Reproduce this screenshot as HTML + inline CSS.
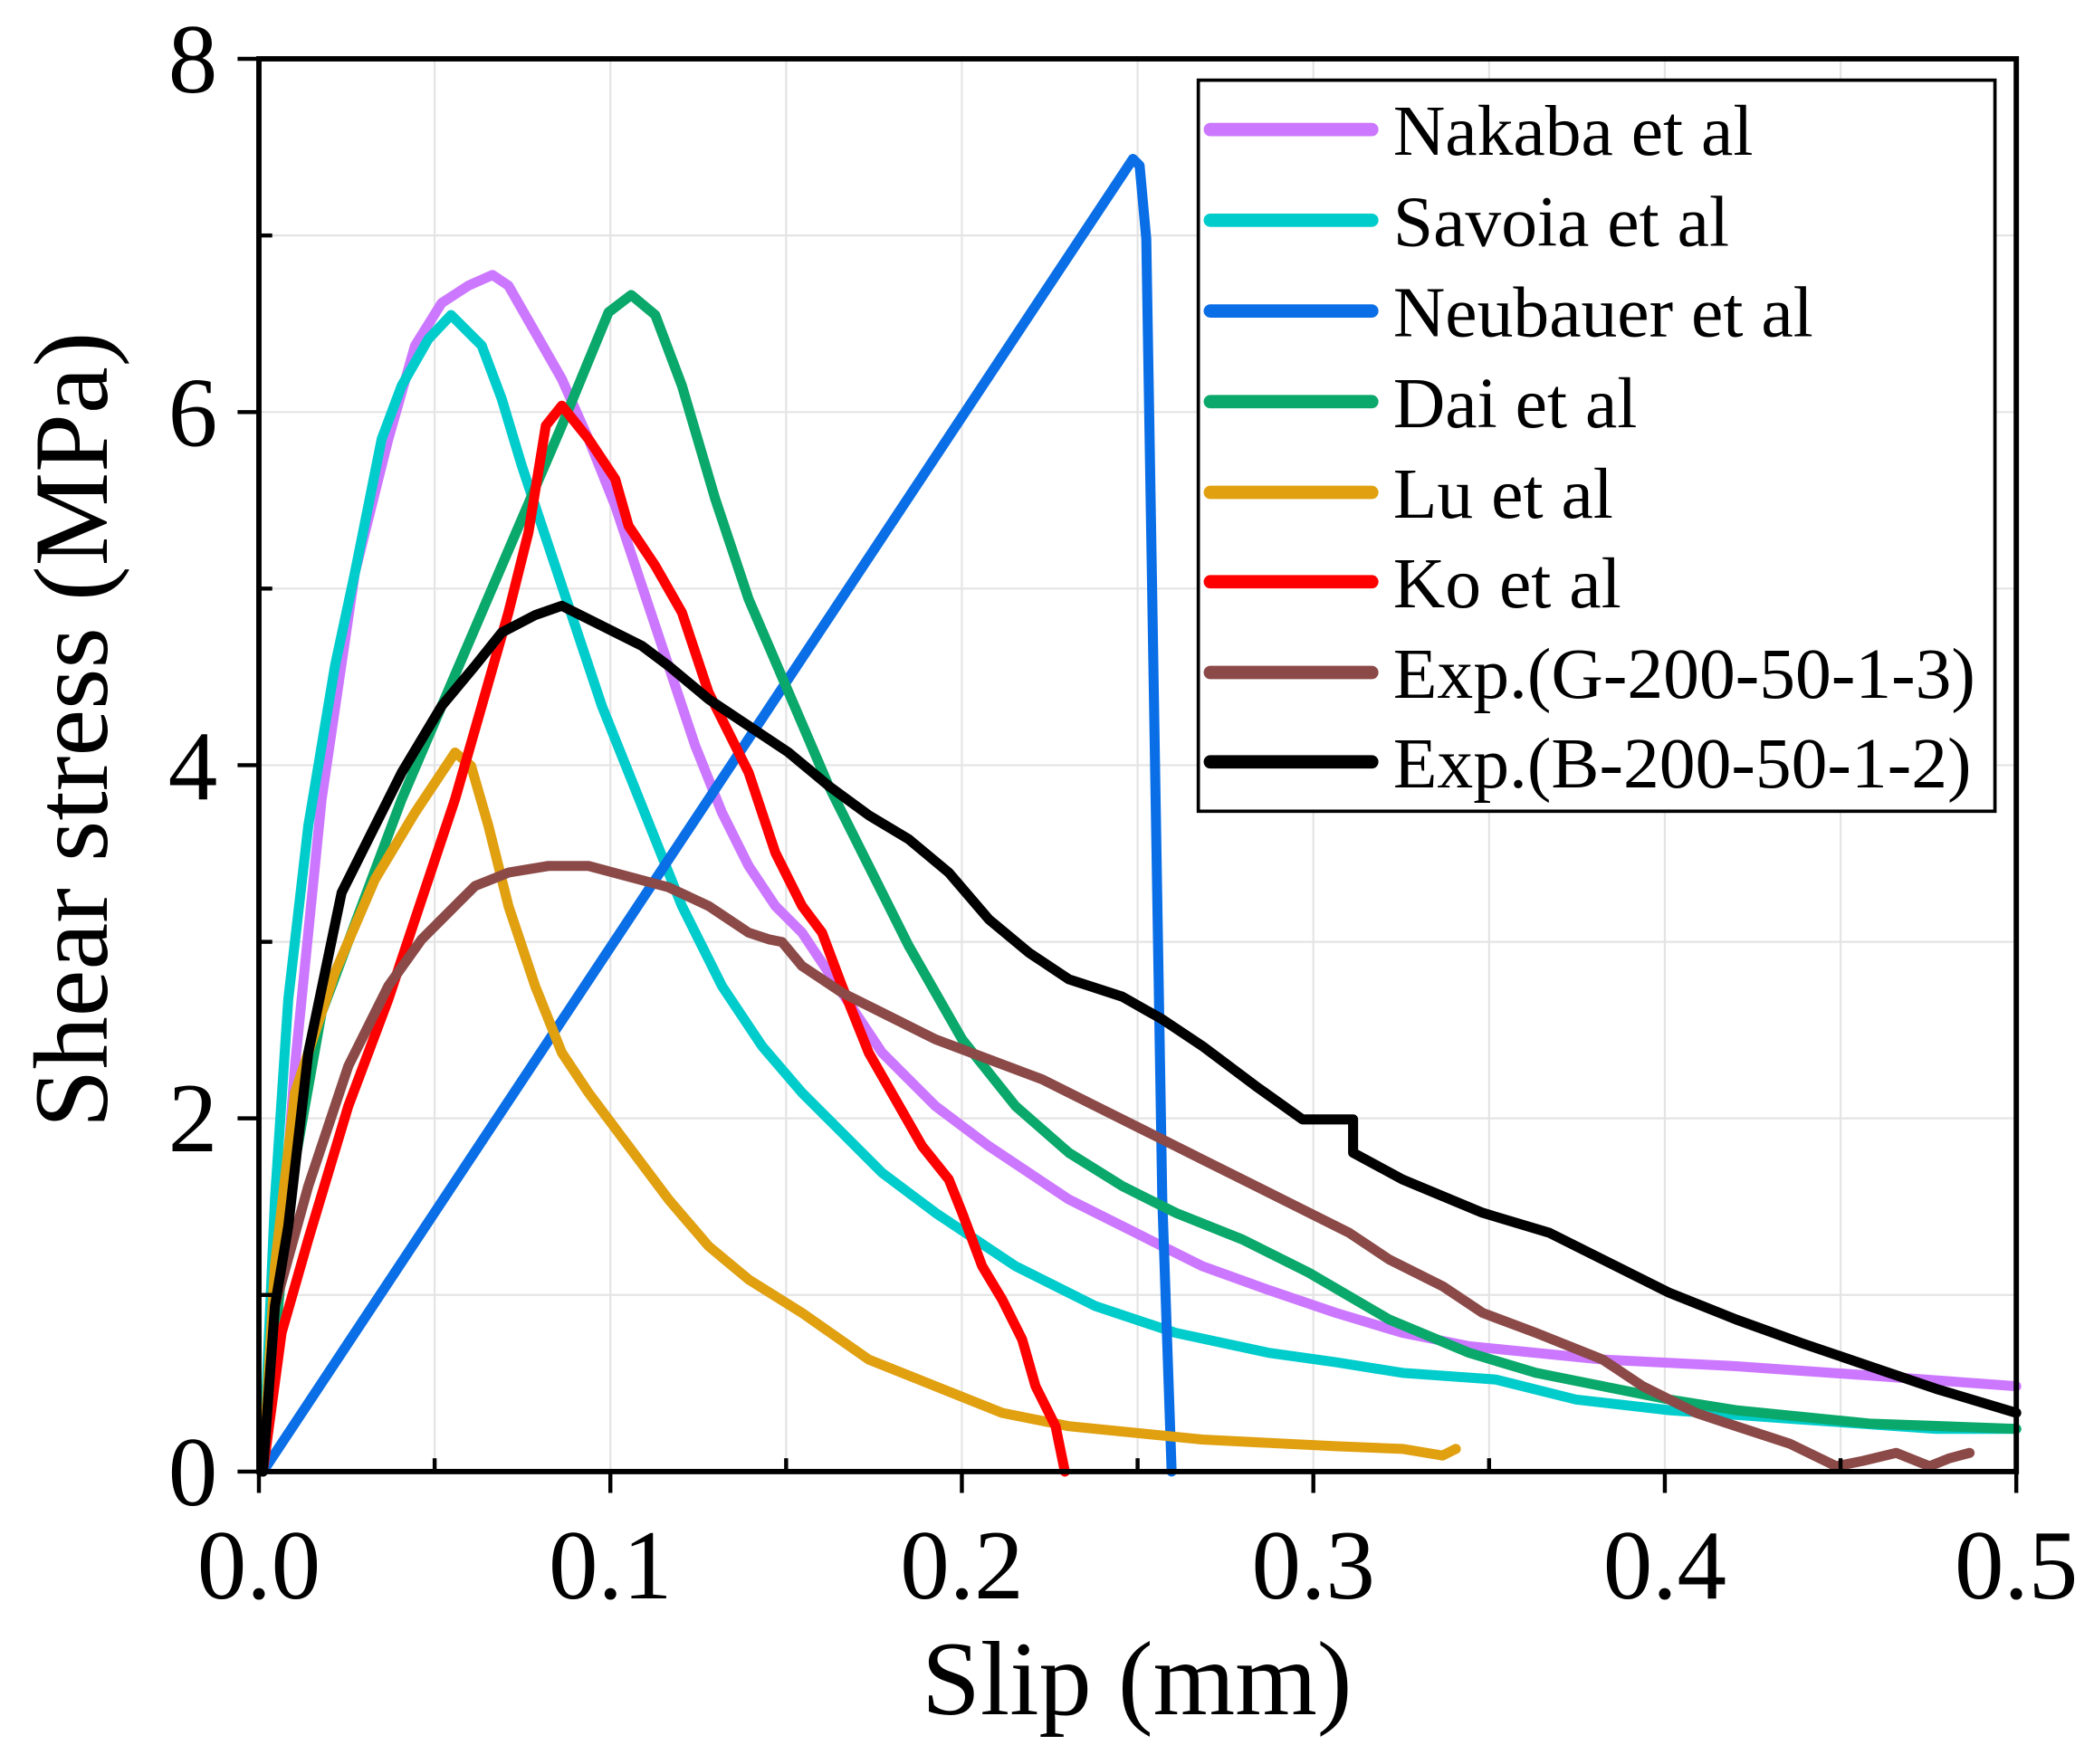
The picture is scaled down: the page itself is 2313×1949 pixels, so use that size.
<!DOCTYPE html>
<html><head><meta charset="utf-8"><style>html,body{margin:0;padding:0;background:#fff}svg{display:block}</style></head>
<body>
<svg width="2313" height="1949" viewBox="-1 0.9 1569.2 1322.3" xmlns="http://www.w3.org/2000/svg" font-family="Liberation Serif, serif">
<rect x="-1" y="0" width="1570" height="1324" fill="#fff"/>
<g stroke="#e4e4e4" stroke-width="1.5">
<line x1="324.7" y1="45" x2="324.7" y2="1104"/><line x1="456.4" y1="45" x2="456.4" y2="1104"/><line x1="588.1" y1="45" x2="588.1" y2="1104"/><line x1="719.8" y1="45" x2="719.8" y2="1104"/><line x1="851.5" y1="45" x2="851.5" y2="1104"/><line x1="983.2" y1="45" x2="983.2" y2="1104"/><line x1="1114.9" y1="45" x2="1114.9" y2="1104"/><line x1="1246.6" y1="45" x2="1246.6" y2="1104"/><line x1="1378.3" y1="45" x2="1378.3" y2="1104"/>
<line x1="193" y1="971.6" x2="1510" y2="971.6"/><line x1="193" y1="839.2" x2="1510" y2="839.2"/><line x1="193" y1="706.9" x2="1510" y2="706.9"/><line x1="193" y1="574.5" x2="1510" y2="574.5"/><line x1="193" y1="442.1" x2="1510" y2="442.1"/><line x1="193" y1="309.8" x2="1510" y2="309.8"/><line x1="193" y1="177.4" x2="1510" y2="177.4"/>
</g>
<g fill="none" stroke-width="7.5" stroke-linejoin="round" stroke-linecap="round">
<polyline stroke="#cc77ff" points="196,1104 205,1000 220,800 240,600 265,430 290,330 310,260 330,228 350,215 368,207 380,215 400,250 420,285 440,330 460,380 480,440 500,500 520,560 540,610 560,650 580,680 600,700 620,730 640,760 660,790 700,830 740,860 800,900 850,925 900,950 950,968 1000,985 1050,1000 1100,1010 1200,1020 1300,1025 1400,1032 1510,1040"/>
<polyline stroke="#00cccc" points="196,1104 205,900 215,750 230,620 250,500 265,430 285,330 300,290 320,255 337,237 360,260 375,300 390,350 410,410 430,470 450,530 470,580 490,630 510,680 540,740 570,785 600,820 630,850 660,880 700,910 760,950 820,980 880,1000 950,1015 1000,1022 1050,1030 1120,1035 1180,1050 1250,1058 1350,1065 1450,1072 1510,1072"/>
<polyline stroke="#0a6ee6" points="196,1104 848,120 853,125 858,180 865,600 870,900 877,1104"/>
<polyline stroke="#0aa86a" points="196,1104 215,900 240,760 270,680 300,600 330,530 360,460 390,390 420,320 455,235 472,222 490,237 510,290 535,375 560,450 590,520 620,590 650,650 680,710 720,780 760,830 800,865 840,890 880,910 930,930 980,955 1040,990 1100,1015 1150,1030 1200,1040 1250,1050 1300,1058 1400,1068 1510,1072"/>
<polyline stroke="#e0a010" points="196,1104 205,950 220,820 250,730 280,660 310,610 330,580 340,565 352,575 365,620 380,680 400,740 420,790 440,820 470,860 500,900 530,935 560,960 600,985 650,1020 700,1040 750,1060 800,1070 900,1080 1000,1085 1050,1087 1080,1092 1090,1087"/>
<polyline stroke="#ff0000" points="196,1104 210,1000 230,930 260,830 290,750 320,660 340,600 360,530 380,460 395,400 408,320 420,305 440,330 460,360 470,395 490,425 510,460 530,520 560,580 580,640 600,680 615,700 630,740 650,790 670,825 690,860 710,885 720,910 735,950 750,975 765,1005 775,1040 790,1070 797,1104"/>
<polyline stroke="#8b4a48" points="196,1104 205,980 230,890 260,800 290,740 315,705 335,685 355,665 380,655 410,650 440,650 470,658 500,666 530,680 560,700 575,705 585,707 600,725 630,745 660,760 700,780 740,795 780,810 820,830 860,850 900,870 940,890 980,910 1010,925 1040,945 1080,965 1110,985 1150,1000 1200,1020 1230,1040 1270,1060 1300,1070 1340,1083 1375,1100 1395,1096 1420,1090 1445,1100 1460,1094 1475,1090"/>
<polyline stroke="#000" points="196,1104 205,980 215,920 230,790 255,670 275,630 300,580 330,530 355,500 375,475 400,462 420,455 440,465 460,475 480,485 500,500 530,525 560,545 590,565 620,590 650,612 680,630 710,655 740,690 770,715 800,735 840,748 870,765 900,785 940,815 975,840 1013,840 1013,865 1050,885 1110,910 1160,925 1200,945 1250,970 1300,990 1350,1008 1400,1025 1450,1042 1510,1060"/>
</g>
<rect x="193" y="45" width="1317" height="1059" fill="none" stroke="#000" stroke-width="4"/>
<g stroke="#000" stroke-width="3">
<line x1="193" y1="1104" x2="193" y2="1120"/><line x1="456.4" y1="1104" x2="456.4" y2="1120"/><line x1="719.8" y1="1104" x2="719.8" y2="1120"/><line x1="983.2" y1="1104" x2="983.2" y2="1120"/><line x1="1246.6" y1="1104" x2="1246.6" y2="1120"/><line x1="1510" y1="1104" x2="1510" y2="1120"/>
<line x1="324.7" y1="1104" x2="324.7" y2="1094"/><line x1="588.1" y1="1104" x2="588.1" y2="1094"/><line x1="851.5" y1="1104" x2="851.5" y2="1094"/><line x1="1114.9" y1="1104" x2="1114.9" y2="1094"/><line x1="1378.3" y1="1104" x2="1378.3" y2="1094"/>
<line x1="177" y1="1104" x2="193" y2="1104"/><line x1="177" y1="839.2" x2="193" y2="839.2"/><line x1="177" y1="574.5" x2="193" y2="574.5"/><line x1="177" y1="309.8" x2="193" y2="309.8"/><line x1="177" y1="45" x2="193" y2="45"/>
<line x1="193" y1="971.6" x2="203" y2="971.6"/><line x1="193" y1="706.9" x2="203" y2="706.9"/><line x1="193" y1="442.1" x2="203" y2="442.1"/><line x1="193" y1="177.4" x2="203" y2="177.4"/>
</g>
<g font-size="74" text-anchor="middle" fill="#000">
<text x="193" y="1199">0.0</text><text x="456.4" y="1199">0.1</text><text x="719.8" y="1199">0.2</text><text x="983.2" y="1199">0.3</text><text x="1246.6" y="1199">0.4</text><text x="1510" y="1199">0.5</text>
</g>
<g font-size="74" text-anchor="end" fill="#000">
<text x="162" y="1129">0</text><text x="162" y="864">2</text><text x="162" y="600">4</text><text x="162" y="335">6</text><text x="162" y="70">8</text>
</g>
<text x="851" y="1286" font-size="79" text-anchor="middle">Slip (mm)</text>
<text transform="translate(79,548) rotate(-90)" font-size="79" text-anchor="middle">Shear stress (MPa)</text>
<rect x="897" y="61" width="597" height="548" fill="#fff" stroke="#000" stroke-width="2.5"/>
<g stroke-width="10" stroke-linecap="round">
<line x1="906" y1="98" x2="1027" y2="98" stroke="#cc77ff"/>
<line x1="906" y1="166" x2="1027" y2="166" stroke="#00cccc"/>
<line x1="906" y1="234" x2="1027" y2="234" stroke="#0a6ee6"/>
<line x1="906" y1="302" x2="1027" y2="302" stroke="#0aa86a"/>
<line x1="906" y1="370" x2="1027" y2="370" stroke="#e0a010"/>
<line x1="906" y1="437" x2="1027" y2="437" stroke="#ff0000"/>
<line x1="906" y1="505" x2="1027" y2="505" stroke="#8b4a48"/>
<line x1="906" y1="572" x2="1027" y2="572" stroke="#000"/>
</g>
<g font-size="54" fill="#000">
<text x="1043" y="117">Nakaba et al</text>
<text x="1043" y="185">Savoia et al</text>
<text x="1043" y="253">Neubauer et al</text>
<text x="1043" y="321">Dai et al</text>
<text x="1043" y="389">Lu et al</text>
<text x="1043" y="456">Ko et al</text>
<text x="1043" y="524">Exp.(G-200-50-1-3)</text>
<text x="1043" y="591">Exp.(B-200-50-1-2)</text>
</g>
</svg>
</body></html>
